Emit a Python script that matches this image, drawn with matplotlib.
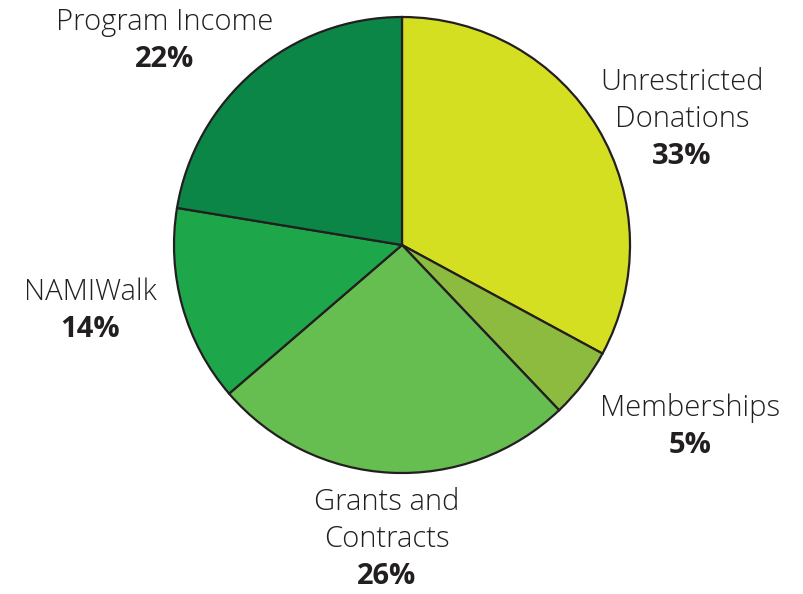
import matplotlib
matplotlib.use("Agg")
import matplotlib.pyplot as plt

# data
labels = ["Unrestricted\nDonations", "Memberships", "Grants and\nContracts", "NAMIWalk", "Program Income"]
values = [32.9, 5.0, 25.8, 13.9, 22.4]
pct_labels = ["33%", "5%", "26%", "14%", "22%"]
colors = ["#d5df22", "#8dbb3f", "#66be51", "#1ea64a", "#0b8646"]

# label centres in pixels (x, y of first line)
label_px = [(682, 82), (690, 408), (387, 502), (90, 292), (165, 22)]

W, H = 804, 594
cx, cy, r = 402, 245, 228
txt_col = "#231f20"

fig = plt.figure(figsize=(W / 100, H / 100), dpi=100)
ax = fig.add_axes([(cx - r) / W, (H - cy - r) / H, 2 * r / W, 2 * r / H])
ax.pie(values, colors=colors, startangle=90, counterclock=False, radius=1,
       wedgeprops=dict(edgecolor=txt_col, linewidth=1.6))
ax.set_xlim(-1, 1)
ax.set_ylim(-1, 1)
ax.set_aspect("equal")
ax.axis("off")

line_h = 37.5
for lab, pct, (px, py) in zip(labels, pct_labels, label_px):
    lines = lab.split("\n")
    for i, ln in enumerate(lines):
        fig.text(px / W, 1 - (py + i * line_h) / H, ln, ha="center", va="center",
                 fontsize=21, family="Open Sans", fontweight="light", color=txt_col)
    fig.text(px / W, 1 - (py + len(lines) * line_h) / H, pct, ha="center", va="center",
             fontsize=21, family="Open Sans", fontweight="bold", color=txt_col)

fig.savefig("out.png", dpi=100)
